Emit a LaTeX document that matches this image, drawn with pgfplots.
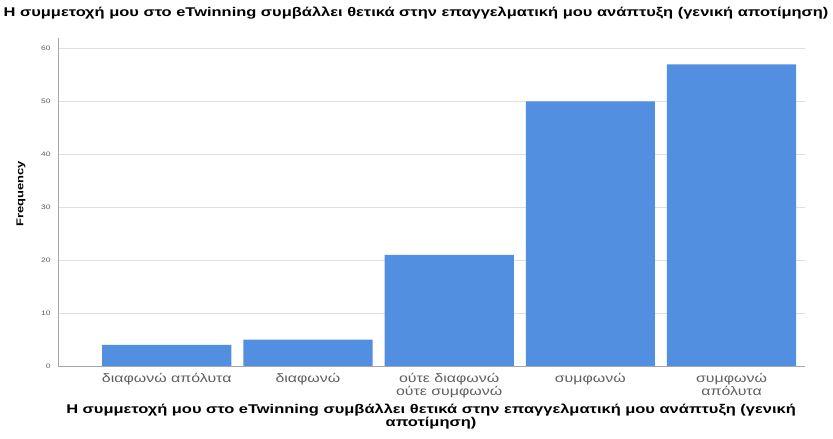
\documentclass[border=0pt]{standalone}
\usepackage{pgfplots}
\pgfplotsset{compat=1.18}
\usepackage{fontspec}
\setmainfont[FakeStretch=1.3]{Liberation Sans}
\definecolor{barblue}{RGB}{82,143,224}
\definecolor{tickgray}{RGB}{95,95,95}
\begin{document}
\begin{tikzpicture}
\path (0,0) rectangle (833bp,439bp);
\begin{axis}[
  at={(58bp,73bp)}, anchor=south west,
  scale only axis, width=747bp, height=328bp,
  xmin=-0.77, xmax=4.52, ymin=0, ymax=62,
  axis x line*=bottom, axis y line*=left,
  axis line style={draw=gray!70},
  ytick={0,10,20,30,40,50,60},
  xtick=data,
  xticklabels={{διαφωνώ απόλυτα},{διαφωνώ},{ούτε διαφωνώ\\ούτε συμφωνώ},{συμφωνώ},{συμφωνώ\\απόλυτα}},
  xticklabel style={align=center, font=\fontsize{12.3}{12.5}\selectfont, text=tickgray},
  xticklabel shift=4bp,
  yticklabel style={font=\fontsize{6.5}{7}\selectfont, text=tickgray},
  yticklabel shift=4bp,
  /pgf/number format/assume math mode=true,
  tick style={draw=none},
  ymajorgrids, grid style={draw=gray!25, line width=0.8pt},
  bar width=0.915,
  clip=false,
]
\addplot[ybar, fill=barblue, draw=none] coordinates {(0,4) (1,5) (2,21) (3,50) (4,57)};
\end{axis}
\node[font=\bfseries\fontsize{12.7}{13}\selectfont] at (416bp,426bp) {Η συμμετοχή μου στο eTwinning συμβάλλει θετικά στην επαγγελματική μου ανάπτυξη (γενική αποτίμηση)};
\node[font=\bfseries\fontsize{12.7}{13}\selectfont, align=center] at (431bp,22bp) {Η συμμετοχή μου στο eTwinning συμβάλλει θετικά στην επαγγελματική μου ανάπτυξη (γενική\\αποτίμηση)};
\node[font=\bfseries\fontsize{10}{11}\selectfont, rotate=90] at (21bp,245bp) {Frequency};
\end{tikzpicture}
\end{document}
